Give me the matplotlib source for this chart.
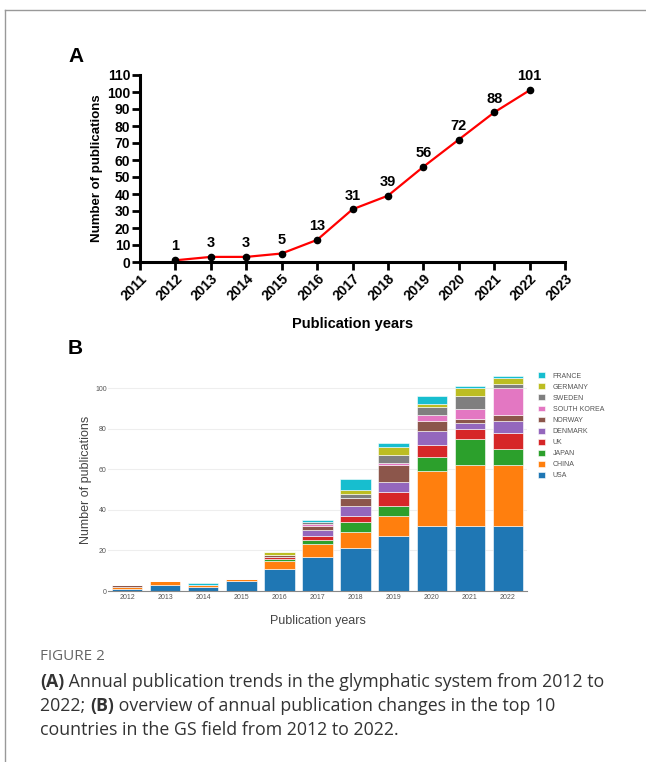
import matplotlib.pyplot as plt
from matplotlib.lines import Line2D

# panel A data
years = [2012, 2013, 2014, 2015, 2016, 2017, 2018, 2019, 2020, 2021, 2022]
pubs = [1, 3, 3, 5, 13, 31, 39, 56, 72, 88, 101]

# panel B data (per country, per year)
bar_years = ['2012', '2013', '2014', '2015', '2016', '2017', '2018', '2019', '2020', '2021', '2022']
countries = ['USA', 'CHINA', 'JAPAN', 'UK', 'DENMARK', 'NORWAY', 'SOUTH KOREA', 'SWEDEN', 'GERMANY', 'FRANCE']
usa = [1, 3, 2, 5, 11, 17, 21, 27, 32, 32, 32]
china = [1, 2, 1, 1, 4, 6, 8, 10, 27, 30, 30]
japan = [0, 0, 0, 0, 1, 2, 5, 5, 7, 13, 8]
uk = [0, 0, 0, 0, 1, 2, 3, 7, 6, 5, 8]
denmark = [0, 0, 0, 0, 0, 3, 5, 5, 7, 3, 6]
norway = [1, 0, 0, 0, 1, 2, 4, 8, 5, 2, 3]
south_korea = [0, 0, 0, 0, 0, 1, 0, 1, 3, 5, 13]
sweden = [0, 0, 0, 0, 0, 1, 2, 4, 4, 6, 2]
germany = [0, 0, 0, 0, 1, 0, 2, 4, 1, 4, 3]
france = [0, 0, 1, 0, 0, 1, 5, 2, 4, 1, 1]
colors = ['#1f77b4', '#ff7f0e', '#2ca02c', '#d62728', '#9467bd',
          '#8c564b', '#e377c2', '#7f7f7f', '#bcbd22', '#17becf']

series = [usa, china, japan, uk, denmark, norway, south_korea, sweden, germany, france]

plt.rcParams['font.family'] = ['Liberation Sans', 'DejaVu Sans']

W, H = 646, 762
fig = plt.figure(figsize=(W / 100, H / 100), dpi=100)


def box(l, t, r, b):  # pixel box -> figure fraction
    return [l / W, 1 - b / H, (r - l) / W, (b - t) / H]


# frame lines of the page
fig.add_artist(Line2D([5 / W, 1], [1 - 10 / H, 1 - 10 / H], color='#999999', lw=1))
fig.add_artist(Line2D([5 / W, 5 / W], [0, 1 - 10 / H], color='#999999', lw=1))

# ---- panel A ----
axA = fig.add_axes(box(140, 75, 565, 262))
axA.plot(years, pubs, color='red', lw=1.6, zorder=2)
axA.plot(years, pubs, 'o', color='black', ms=4.5, zorder=3)
for x, y in zip(years, pubs):
    axA.text(x, y + 4, str(y), ha='center', va='bottom', fontsize=10.5, fontweight='bold')
axA.set_xlim(2011, 2023)
axA.set_ylim(0, 110)
axA.set_xticks(range(2011, 2024))
axA.set_xticklabels([str(y) for y in range(2011, 2024)], rotation=45, ha='right',
                    rotation_mode='anchor', fontsize=10, fontweight='bold')
axA.set_yticks(range(0, 111, 10))
axA.set_yticklabels([str(v) for v in range(0, 111, 10)], fontsize=10, fontweight='bold')
axA.spines['top'].set_visible(False)
axA.spines['right'].set_visible(False)
for s in ['left', 'bottom']:
    axA.spines[s].set_linewidth(2.2)
axA.tick_params(width=2, length=6, pad=1)
axA.set_xlabel('Publication years', fontsize=10.5, fontweight='bold', labelpad=10)
axA.set_ylabel('Number of publications', fontsize=9.5, fontweight='bold', labelpad=3)
fig.text(68 / W, 1 - 57 / H, 'A', fontsize=15, fontweight='bold', va='center')

# ---- panel B ----
axB = fig.add_axes(box(108, 368, 527, 591))
xs = list(range(len(bar_years)))
bottom = [0] * len(bar_years)
for name, vals, c in zip(countries, series, colors):
    axB.bar(xs, vals, 0.8, bottom=bottom, color=c, edgecolor='white', linewidth=0.4,
            label=name, zorder=2)
    bottom = [b + v for b, v in zip(bottom, vals)]
axB.set_xlim(-0.5, 10.5)
axB.set_ylim(0, 110)
axB.set_xticks(xs)
axB.set_xticklabels(bar_years, fontsize=5, color='#555555')
axB.set_yticks(range(0, 101, 20))
axB.set_yticklabels([str(v) for v in range(0, 101, 20)], fontsize=5, color='#555555')
axB.grid(axis='y', color='#eeeeee', lw=0.8, zorder=0)
for s in ['top', 'right', 'left']:
    axB.spines[s].set_visible(False)
axB.spines['bottom'].set_color('#888888')
axB.spines['bottom'].set_linewidth(0.8)
axB.tick_params(length=0, pad=2)
axB.tick_params(axis='y', length=0, pad=1)
axB.set_xlabel('Publication years', fontsize=9, color='#444444', labelpad=10)
axB.set_ylabel('Number of publications', fontsize=9, color='#444444', labelpad=2)
fig.text(68 / W, 1 - 348 / H, 'B', fontsize=15, fontweight='bold', va='center')

handles, labels = axB.get_legend_handles_labels()
leg = fig.legend(handles[::-1], labels[::-1], loc='upper left',
                 bbox_to_anchor=(532 / W, 1 - 366 / H), frameon=False,
                 fontsize=5, handlelength=0.9, handleheight=0.9,
                 labelspacing=0.55, handletextpad=1.2)
for t in leg.get_texts():
    t.set_color('#555555')

# ---- caption ----
fig.text(40 / W, 1 - 657 / H, 'FIGURE 2', fontsize=11, color='#666666', va='center',
         family='Open Sans')
cap = [
    [('(A)', 'bold'), (' Annual publication trends in the glymphatic system from 2012 to', 'normal')],
    [('2022; ', 'normal'), ('(B)', 'bold'), (' overview of annual publication changes in the top 10', 'normal')],
    [('countries in the GS field from 2012 to 2022.', 'normal')],
]
fig.canvas.draw()
r = fig.canvas.get_renderer()
for i, line in enumerate(cap):
    x = 40 / W
    y = 1 - (682 + 24 * i) / H
    for txt, w in line:
        t = fig.text(x, y, txt, fontsize=12.8, color='#333333', fontweight=w, va='center',
                     family='Open Sans')
        bb = t.get_window_extent(renderer=r)
        x += bb.width / W

fig.savefig('out.png', dpi=100)
